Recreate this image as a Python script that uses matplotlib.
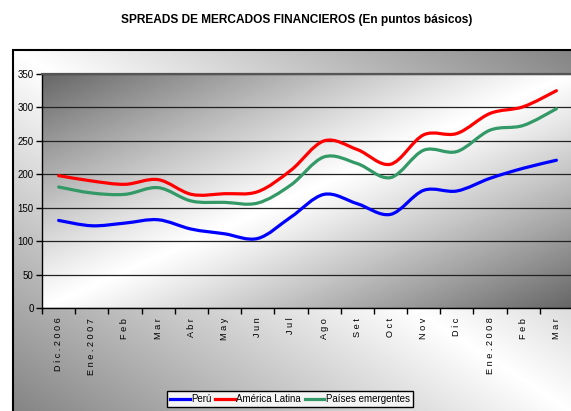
import numpy as np
import matplotlib
matplotlib.use('Agg')
import matplotlib.pyplot as plt
from matplotlib.path import Path
from matplotlib.patches import PathPatch, Rectangle
from matplotlib.lines import Line2D

plt.rcParams['font.family'] = ['Liberation Sans Narrow', 'Liberation Sans', 'DejaVu Sans']

# Data (puntos básicos)
months = ['Dic.2006', 'Ene.2007', 'Feb', 'Mar', 'Abr', 'May', 'Jun', 'Jul',
          'Ago', 'Set', 'Oct', 'Nov', 'Dic', 'Ene.2008', 'Feb', 'Mar']
peru = [131, 123, 127, 132, 118, 111, 104, 136, 170, 156, 140, 176, 175, 194, 209, 221]
america_latina = [198, 190, 185, 192, 170, 171, 174, 206, 250, 237, 215, 259, 261, 291, 301, 325]
emergentes = [181, 172, 170, 180, 160, 158, 157, 184, 226, 216, 195, 236, 234, 266, 273, 298]
yticks = [0, 50, 100, 150, 200, 250, 300, 350]


def smooth_path(x, y):
    # Excel-style smoothed line (cubic bezier through the points)
    pts = np.column_stack([x, y]).astype(float)
    n = len(pts)
    verts = [pts[0]]
    codes = [Path.MOVETO]
    for i in range(n - 1):
        p0 = pts[i - 1] if i > 0 else pts[i]
        p3 = pts[i + 2] if i + 2 < n else pts[i + 1]
        c1 = pts[i] + (pts[i + 1] - p0) / 6
        c2 = pts[i + 1] - (p3 - pts[i]) / 6
        verts += [c1, c2, pts[i + 1]]
        codes += [Path.CURVE4] * 3
    return Path(verts, codes)


fig = plt.figure(figsize=(5.71, 4.11), dpi=100)
W, H = 571, 411

# outer frame background
bg = fig.add_axes([0, 0, 1, 1])
bg.set_xlim(0, 1)
bg.set_ylim(0, 1)
bg.axis('off')
fx0, fy0 = 13 / W, 1 - 50 / H
gx, gy = np.meshgrid(np.linspace(0, 1, 300), np.linspace(0, 1, 300))
frame_grad = 1 - 0.48 * np.abs(gx - gy)
bg.imshow(frame_grad, cmap='gray', vmin=0, vmax=1, extent=[fx0, 1.0, 0, fy0],
          origin='upper', aspect='auto', zorder=0)
bg.add_patch(Rectangle((fx0, -0.05), 1.1, fy0 + 0.05, fill=False,
                       edgecolor='black', lw=1.5, zorder=1))

fig.text(297 / W, 1 - 20 / H, 'SPREADS DE MERCADOS FINANCIEROS (En puntos básicos)',
         ha='center', va='center', fontsize=8.6, fontweight='bold')

# plot area
left, right, top, bottom = 42, 573, 74, 308
ax = fig.add_axes([left / W, 1 - bottom / H, (right - left) / W, (bottom - top) / H])
ax.patch.set_visible(False)
px, py = np.meshgrid(np.linspace(0, 1, 300), np.linspace(0, 1, 300))
plot_grad = 1 - 0.6 * np.abs(px + py - 1) ** 1.1
ax.imshow(plot_grad, cmap='gray', vmin=0, vmax=1, extent=[0, 1, 0, 1],
          transform=ax.transAxes, origin='upper', aspect='auto', zorder=0)

x = np.arange(len(months))
for vals, col in [(peru, '#0000FF'), (america_latina, '#FF0000'), (emergentes, '#339966')]:
    ax.add_patch(PathPatch(smooth_path(x, vals), fill=False, edgecolor=col,
                           lw=2.3, zorder=3, capstyle='round', joinstyle='round'))

ax.set_xlim(-0.5, len(months) - 0.5)
ax.set_ylim(0, 350)
ax.set_yticks(yticks)
ax.set_yticklabels([str(v) for v in yticks], fontsize=7)
ax.yaxis.grid(True, color='#222222', lw=0.9, zorder=1)
ax.set_axisbelow(True)

ax.set_xticks(x)
ax.set_xticklabels([' '.join(m) for m in months], rotation=90, fontsize=6.6,
                   va='top', ha='center')
ax.set_xticks(np.arange(-0.5, len(months)), minor=True)
ax.tick_params(axis='x', which='major', length=0, pad=7)
ax.tick_params(axis='x', which='minor', length=4, direction='out', width=1)
ax.tick_params(axis='y', length=4, direction='out', width=1, pad=2)

ax.spines['right'].set_visible(False)
ax.spines['top'].set_color('#555555')
ax.spines['top'].set_linewidth(1.6)
ax.spines['left'].set_linewidth(1)
ax.spines['bottom'].set_linewidth(1)

handles = [Line2D([], [], color='#0000FF', lw=2.3),
           Line2D([], [], color='#FF0000', lw=2.3),
           Line2D([], [], color='#339966', lw=2.3)]
leg = fig.legend(handles, ['Perú', 'América Latina', 'Países emergentes'],
                 loc='center', bbox_to_anchor=(290 / W, 1 - 399 / H), ncol=3,
                 fontsize=7, frameon=True, fancybox=False, shadow=False,
                 handlelength=2.0, handletextpad=0.15, columnspacing=0.4,
                 borderpad=0.3, borderaxespad=0)
leg.get_frame().set_edgecolor('black')
leg.get_frame().set_linewidth(1)
leg.get_frame().set_facecolor('#f4f4f4')
leg.get_frame().set_alpha(1)

fig.savefig('out.png', dpi=100)
